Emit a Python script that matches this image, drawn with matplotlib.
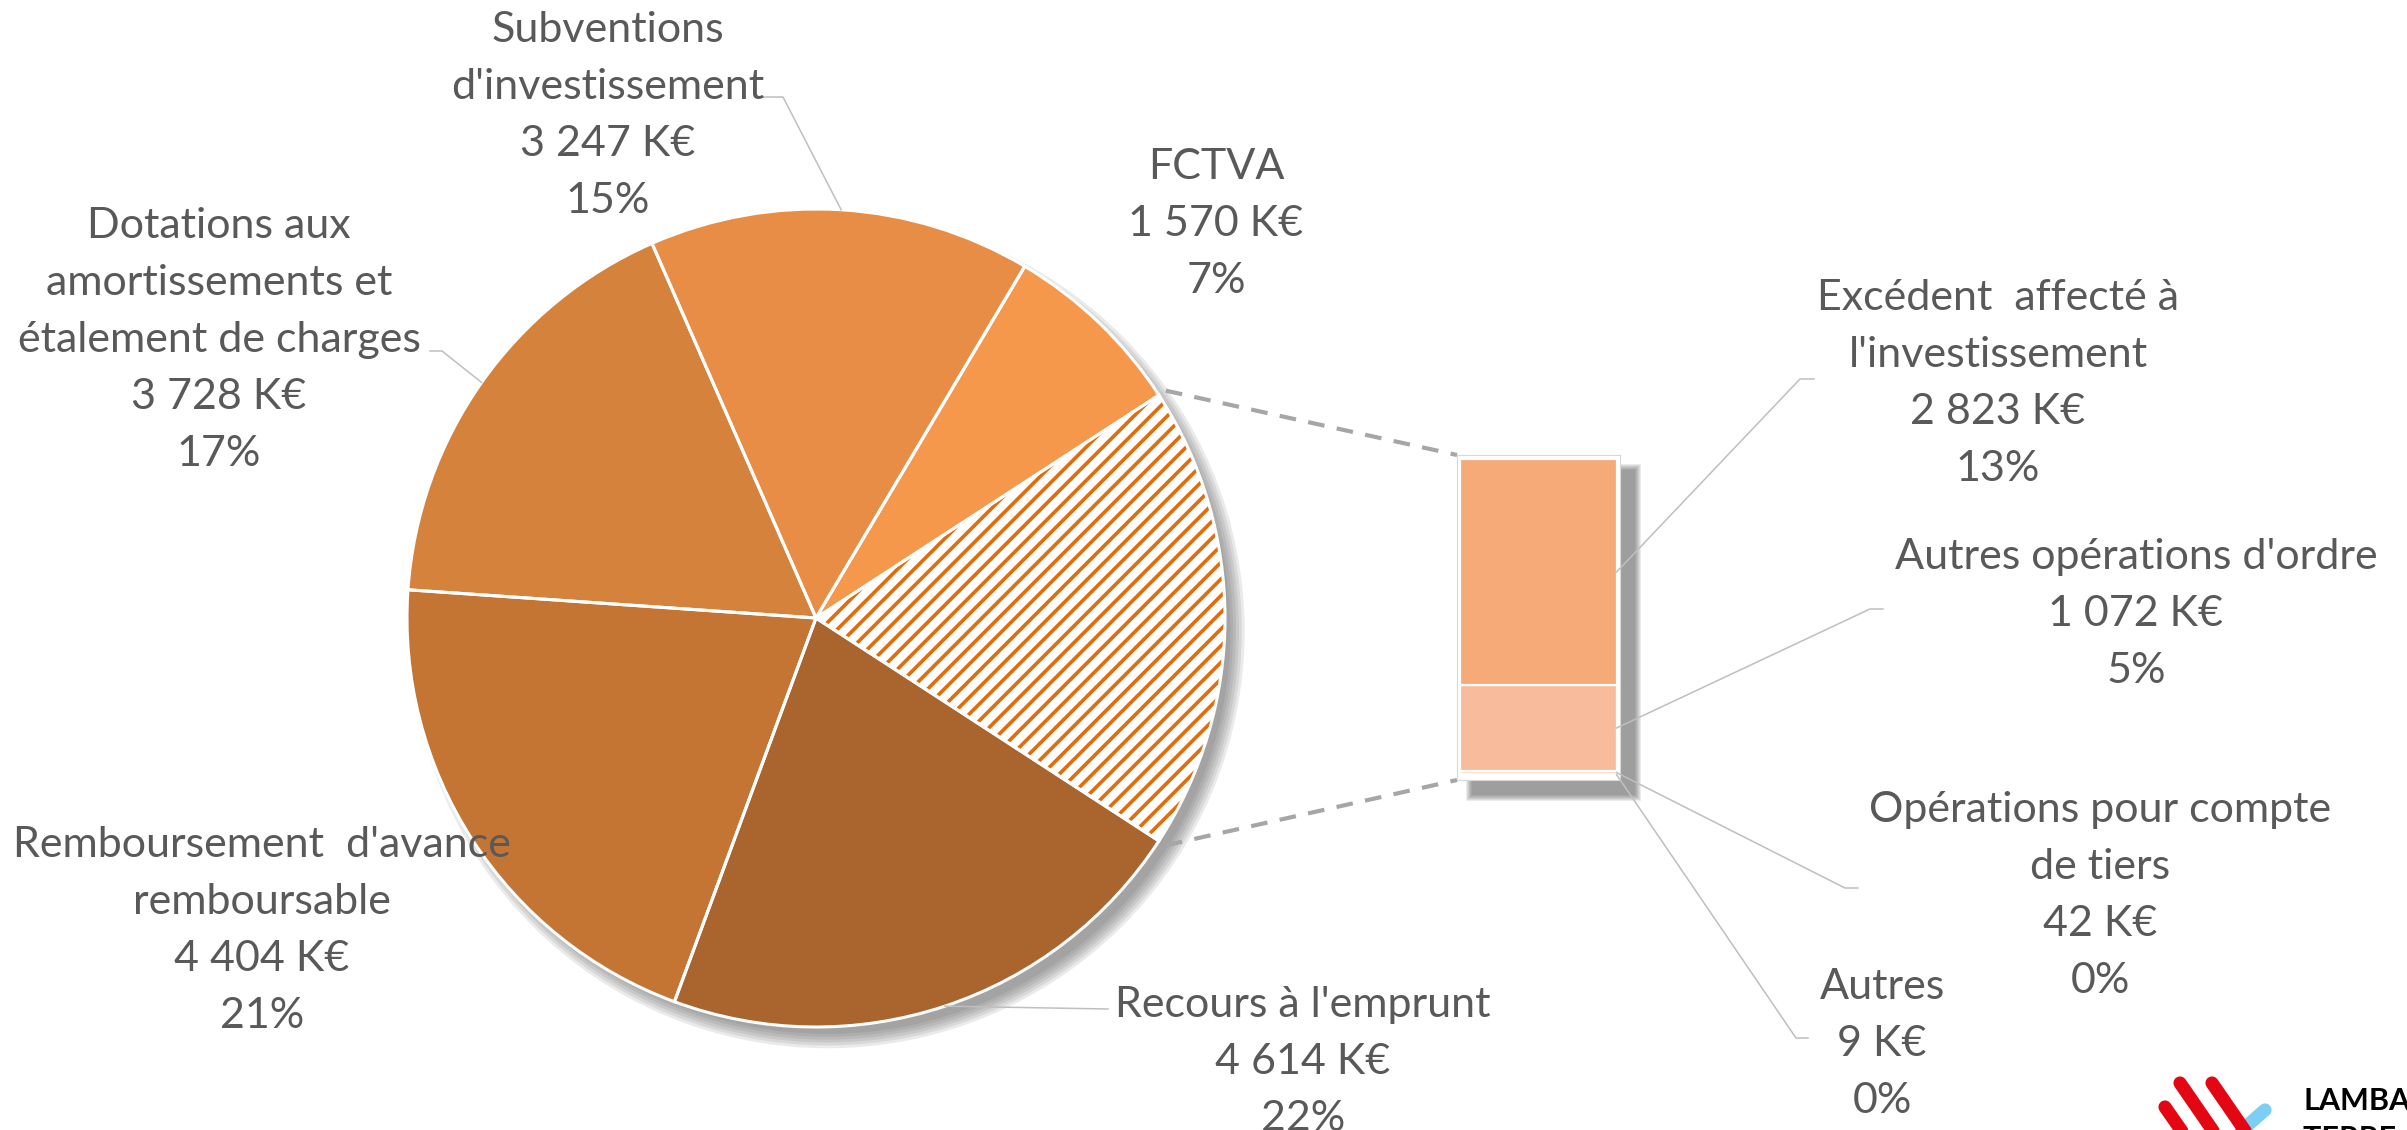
import numpy as np
import matplotlib
matplotlib.use("Agg")
import matplotlib.pyplot as plt
from matplotlib.patches import Circle, Rectangle

# Données (K€)
pie_names = [None,
             ["FCTVA"],
             ["Subventions", "d'investissement"],
             ["Dotations aux", "amortissements et", "étalement de charges"],
             ["Remboursement  d'avance", "remboursable"],
             ["Recours à l'emprunt"]]
pie_pcts = ["18%", "7%", "15%", "17%", "21%", "22%"]
bar_names = [["Autres"],
             ["Opérations pour compte", "de tiers"],
             ["Autres opérations d'ordre"],
             ["Excédent  affecté à", "l'investissement"]]
bar_values = [9, 42, 1072, 2823]
bar_pcts = ["0%", "0%", "5%", "13%"]
pie_values = [sum(bar_values), 1570, 3247, 3728, 4404, 4614]

pie_colors = ["white", "#F5984B", "#E78D45", "#D5823D", "#C47534", "#AA652E"]
bar_colors = ["#FCD9C6", "#FBD0B6", "#F8BB9B", "#F6AA78"]
hatch_col = "#E36C0A"
txt_col = "#595959"
lead_col = "#BFBFBF"

W, H = 2407, 1130
plt.rcParams["font.family"] = ["Lato", "DejaVu Sans"]
plt.rcParams["hatch.linewidth"] = 2.6
FS = 31
STEP = 57


def kfmt(v):
    return f"{v:,}".replace(",", " ") + " K€"


fig = plt.figure(figsize=(W / 100, H / 100), dpi=100)

# fond (ombres) et avant-plan (textes) en pixels
back = fig.add_axes([0, 0, 1, 1], zorder=0)
back.set_xlim(0, W)
back.set_ylim(H, 0)
back.axis("off")

# camembert
cx, cy, R = 816, 618, 409
lim = 1.3
side = 2 * lim * R
ax = fig.add_axes([(cx - side / 2) / W, (H - cy - side / 2) / H, side / W, side / H], zorder=1)
ax.patch.set_alpha(0)
for k in range(6):
    ax.add_patch(Circle((0.028, -0.032), 0.985 + 0.007 * k, color="#606060", alpha=0.13, lw=0, zorder=0))
start = -180 * pie_values[0] / sum(pie_values)
wedges, _ = ax.pie(pie_values, colors=pie_colors, startangle=start, counterclock=True,
                   wedgeprops=dict(linewidth=0))
wedges[0].set_hatch("//")
wedges[0].set_edgecolor(hatch_col)
ax.pie(pie_values, startangle=start, counterclock=True,
       wedgeprops=dict(fill=False, edgecolor="white", linewidth=2.2))
ax.set_xlim(-lim, lim)
ax.set_ylim(-lim, lim)
ax.axis("off")

# barre empilée
bx0, bx1, by0, by1 = 1457, 1620, 455, 780
axb = fig.add_axes([bx0 / W, (H - by1) / H, (bx1 - bx0) / W, (by1 - by0) / H], zorder=2)
bottom = 0
for v, c in zip(bar_values, bar_colors):
    axb.bar(0, v, bottom=bottom, width=1.0, color=c, edgecolor="white", linewidth=1.6)
    bottom += v
tot = sum(bar_values)
upp = tot / 316
axb.set_ylim(-5 * upp, tot + 4 * upp)
axb.set_xlim(-0.522, 0.522)
axb.set_xticks([])
axb.set_yticks([])
for s in axb.spines.values():
    s.set_color("#D9D9D9")
    s.set_linewidth(0.8)

for k in range(7):
    back.add_patch(Rectangle((bx0 + 15 - k, by0 + 15 - k), bx1 - bx0 + 2 * k, by1 - by0 + 2 * k,
                             color="#606060", alpha=0.12, lw=0))

front = fig.add_axes([0, 0, 1, 1], zorder=3)
front.set_xlim(0, W)
front.set_ylim(H, 0)
front.axis("off")
front.patch.set_alpha(0)


def to_px(axes, x, y):
    dx, dy = axes.transData.transform((x, y))
    return dx, H - dy


def pie_pt(theta, r=1.0):
    t = np.radians(theta)
    return to_px(ax, r * np.cos(t), r * np.sin(t))


def label(x, y0, lines):
    for i, s in enumerate(lines):
        front.text(x, y0 + i * STEP + 14, s, ha="center", va="baseline", fontsize=FS, color=txt_col)


# étiquettes du camembert
pie_pos = [None, (1216, 165), (608, 28), (219, 224), (262, 843), (1303, 1003)]
for i in range(1, len(pie_values)):
    x, y = pie_pos[i]
    label(x, y, pie_names[i] + [kfmt(pie_values[i]), pie_pcts[i]])

# lignes de rappel du camembert
pie_leads = {2: [(783, 97), (763, 97)], 3: [(442, 351), (430, 351)], 5: [(1108, 1009)]}
for i, pts in pie_leads.items():
    w = wedges[i]
    p = pie_pt((w.theta1 + w.theta2) / 2)
    xs = [p[0]] + [q[0] for q in pts]
    ys = [p[1]] + [q[1] for q in pts]
    front.plot(xs, ys, color=lead_col, lw=1.1)

# étiquettes de la barre
bar_pos = [(1882, 985), (2100, 808), (2136, 555), (1998, 296)]
bar_leads = [[(1796, 1038), (1808, 1038)], [(1845, 888), (1858, 888)],
             [(1870, 609), (1883, 609)], [(1800, 379), (1814, 379)]]
bottom = 0
for i, v in enumerate(bar_values):
    x, y = bar_pos[i]
    label(x, y, bar_names[i] + [kfmt(v), bar_pcts[i]])
    p = to_px(axb, 0.5, bottom + v / 2)
    pts = bar_leads[i]
    front.plot([p[0]] + [q[0] for q in pts], [p[1]] + [q[1] for q in pts], color=lead_col, lw=1.1)
    bottom += v

# lignes pointillées entre la part "Autres" et la barre
w0 = wedges[0]
p_top = pie_pt(w0.theta2, 1.02)
p_bot = pie_pt(w0.theta1, 1.02)
front.plot([p_top[0], bx0], [p_top[1], by0], color="#A6A6A6", lw=3, ls=(0, (4, 3)))
front.plot([p_bot[0], bx0], [p_bot[1], by1], color="#A6A6A6", lw=3, ls=(0, (4, 3)))

# logo
front.plot([2165, 2195], [1107, 1150], color="#E30613", lw=9.5, solid_capstyle="round")
front.plot([2265, 2225], [1110, 1145], color="#7DCEF4", lw=9.5, solid_capstyle="round")
front.plot([2180, 2220], [1083, 1141], color="#E30613", lw=9.5, solid_capstyle="round")
front.plot([2212, 2252], [1083, 1141], color="#E30613", lw=9.5, solid_capstyle="round")
front.text(2303, 1110, "LAMBALLE", fontsize=22, fontweight="bold", color="black", va="baseline")
front.text(2303, 1148, "TERRE & MER", fontsize=22, fontweight="bold", color="black", va="baseline")

fig.savefig("out.png", dpi=100, facecolor="white")
